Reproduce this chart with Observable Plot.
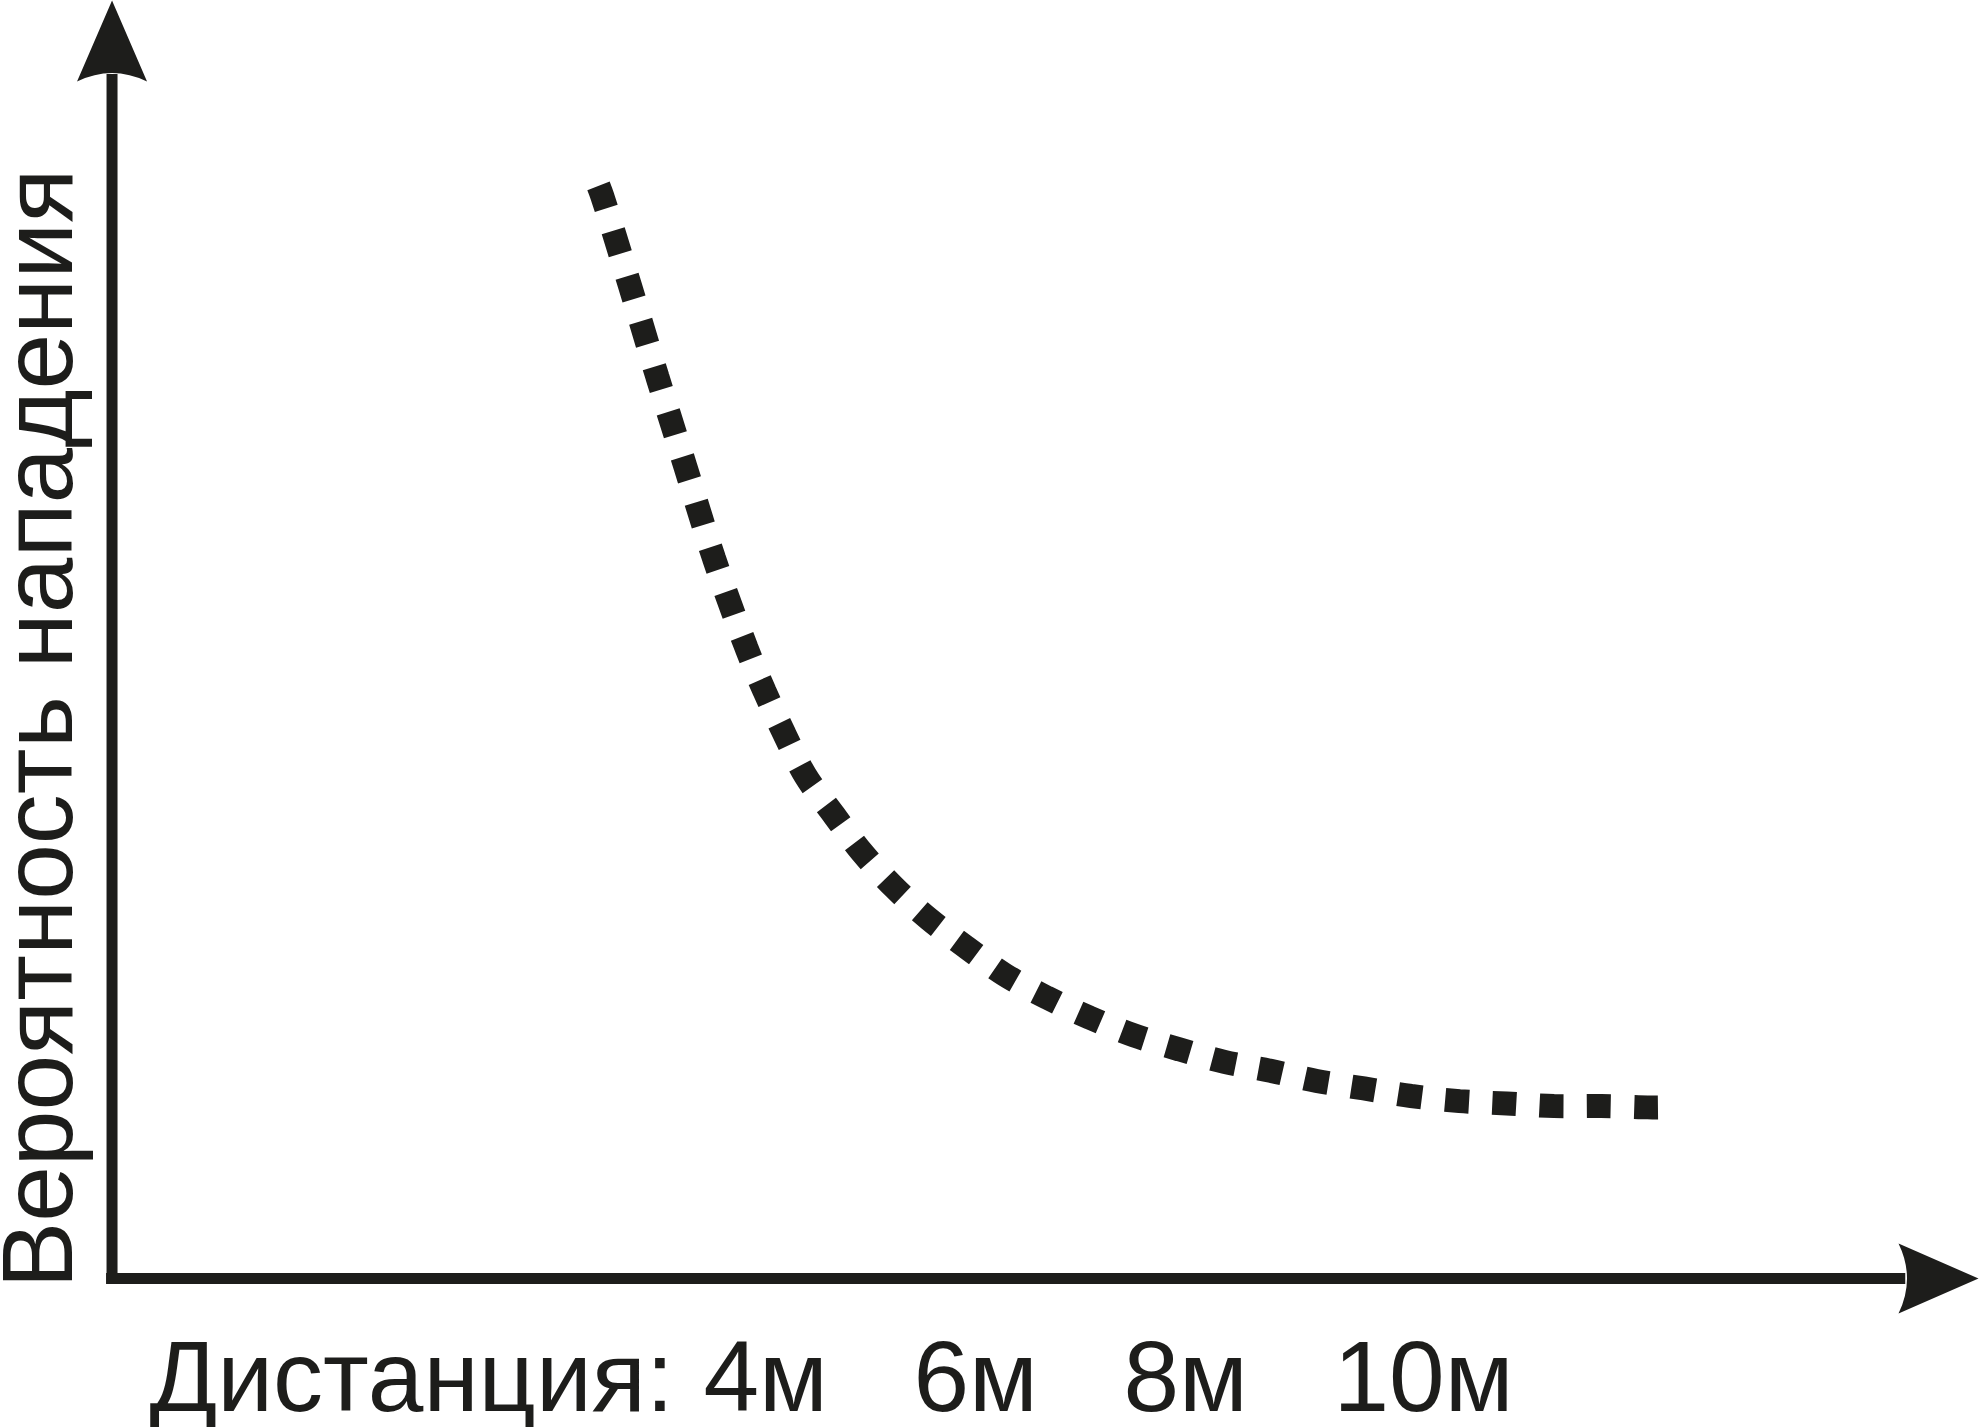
<!DOCTYPE html>
<html>
<head>
<meta charset="utf-8">
<script src="https://cdn.jsdelivr.net/npm/d3@7"></script>
<script src="https://cdn.jsdelivr.net/npm/@observablehq/plot@0.6"></script>
<style>
  html, body { margin: 0; padding: 0; background: #fff; }
  svg { display: block; }
</style>
</head>
<body>
<div id="chart"></div>
<script>
// Curve: distance (m) vs probability of attack (%)
const distance = [3.00, 3.04, 3.30, 3.56, 3.83, 4.10, 4.41, 4.58, 4.77, 4.97, 5.24, 5.51, 5.82, 6.15, 6.50, 6.87, 7.27, 7.68, 8.10, 8.53, 8.96, 9.40, 9.84, 10.29, 10.74, 11.20, 11.65, 12.10, 12.55, 12.99, 13.09];
const probability = [85.49, 84.59, 77.68, 70.57, 63.46, 56.35, 49.33, 45.98, 42.62, 39.36, 36.30, 33.34, 30.57, 28.11, 25.93, 23.76, 21.98, 20.40, 19.02, 17.93, 16.95, 16.25, 15.46, 14.87, 14.28, 13.88, 13.69, 13.49, 13.49, 13.39, 13.39];

// Axis texts
const xTitle = "Дистанция:";
const yTitle = "Вероятность нападения";
const tickValues = [4, 6, 8, 10];
const tickLabels = ["4м", "6м", "8м", "10м"];

const curve = distance.map((d, i) => ({distance: d, probability: probability[i]}));
const ticks = tickValues.map((v, i) => ({value: v, label: tickLabels[i]}));

const ink = "#1d1d1b";
const font = "'Liberation Sans', Arial, Helvetica, sans-serif";

// axis geometry (data units)
const xOrigin = -1.633;   // where the vertical axis stands
const xEnd = 16.143;      // tip of horizontal arrow
const yEnd = 100;         // tip of vertical arrow
const labelY = -10.33;    // baseline of the bottom line of text

// dotted-line styling: number of square dots along the curve
const dotCount = 34;
const dotSize = 24;

const arrowUp = {
  draw(ctx) {
    ctx.moveTo(0, 0);
    ctx.lineTo(35, 81);
    ctx.quadraticCurveTo(0, 64, -35, 81);
    ctx.closePath();
  }
};
const arrowRight = {
  draw(ctx) {
    ctx.moveTo(0, 0);
    ctx.lineTo(-80, 35);
    ctx.quadraticCurveTo(-63, 0, -80, -35);
    ctx.closePath();
  }
};

const chart = Plot.plot({
  width: 1979,
  height: 1427,
  margin: 0,
  style: {background: "#fff", overflow: "visible", fontFamily: font},
  x: {domain: [0, 10], range: [283, 1333], axis: null},
  y: {domain: [0, 100], range: [1278, 0], axis: null},
  marks: [
    // axes
    Plot.ruleX([xOrigin], {y1: -0.43, y2: yEnd - 5.8, stroke: ink, strokeWidth: 11}),
    Plot.ruleY([0], {x1: xOrigin - 0.052, x2: 15.45, stroke: ink, strokeWidth: 11}),
    Plot.dot([{x: xOrigin, y: yEnd}], {x: "x", y: "y", symbol: arrowUp, fill: ink, stroke: "none", r: 10}),
    Plot.dot([{x: xEnd, y: 0}], {x: "x", y: "y", symbol: arrowRight, fill: ink, stroke: "none", r: 10}),
    // dotted curve
    Plot.line(curve, {
      x: "distance", y: "probability", stroke: ink, strokeWidth: dotSize,
      strokeDasharray: "24,23", strokeLinecap: "butt", strokeLinejoin: "miter",
      curve: "catmull-rom", className: "dotted-curve"
    }),
    // y title
    Plot.text([yTitle], {
      x: () => -2.01, y: () => -0.78, text: d => d, rotate: -90,
      textAnchor: "start", lineAnchor: "bottom", fontSize: 100, fill: ink, fontFamily: font
    }),
    // x title and tick labels
    Plot.text([xTitle], {
      x: () => -1.276, y: () => labelY, text: d => d,
      textAnchor: "start", lineAnchor: "bottom", fontSize: 100, fill: ink, fontFamily: font
    }),
    Plot.text(ticks, {
      x: "value", y: () => labelY, text: "label",
      textAnchor: "start", lineAnchor: "bottom", fontSize: 100, fill: ink, fontFamily: font
    })
  ]
});
document.getElementById("chart").appendChild(chart);

// fit the dash period so that dotCount dots span the curve exactly
const path = chart.querySelector(".dotted-curve path");
if (path && path.getTotalLength) {
  const L = path.getTotalLength();
  const period = (L - dotSize) / (dotCount - 1);
  path.setAttribute("stroke-dasharray", `${dotSize},${period - dotSize}`);
}
</script>
</body>
</html>
